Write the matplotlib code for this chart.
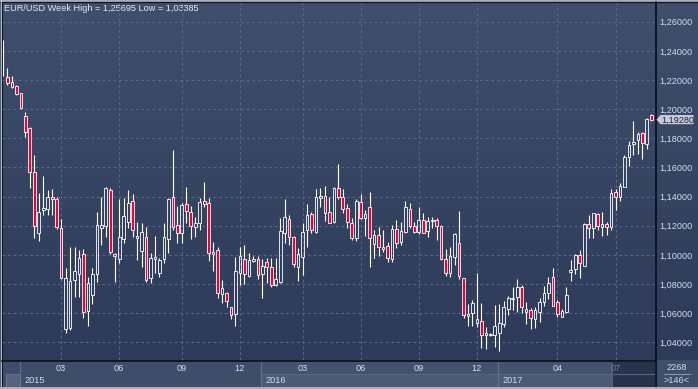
import numpy as np
import matplotlib
matplotlib.use("Agg")
import matplotlib.pyplot as plt
from matplotlib.patches import Rectangle, Polygon
from matplotlib.collections import LineCollection
from matplotlib.colors import LinearSegmentedColormap

# ---------------- data (weekly EUR/USD candles) ----------------
opens = [1.2227, 1.2220, 1.2186, 1.2159, 1.2111, 1.1953, 1.1868, 1.1566, 1.1148, 1.1308,
         1.1312, 1.1399, 1.1383, 1.1182, 1.0491, 1.0496, 1.0827, 1.0866, 1.1006, 1.0614,
         1.0724, 1.0866, 1.1182, 1.1200, 1.1445, 1.1006, 1.0969, 1.1107, 1.1227, 1.1369,
         1.1115, 1.1026, 1.1124, 1.0839, 1.0969, 1.0873, 1.0969, 1.1107, 1.1395, 1.1205,
         1.1148, 1.1349, 1.1292, 1.1193, 1.1216, 1.1369, 1.1354, 1.1017, 1.1033, 1.0729,
         1.0740, 1.0640, 1.0592, 1.0873, 1.0971, 1.0857, 1.0960, 1.0969, 1.0866, 1.0953,
         1.0914, 1.0793, 1.0816, 1.1148, 1.1244, 1.1124, 1.0914, 1.0987, 1.1170, 1.1280,
         1.1155, 1.1392, 1.1406, 1.1292, 1.1227, 1.1457, 1.1399, 1.1319, 1.1216, 1.1113,
         1.1360, 1.1251, 1.1326, 1.1072, 1.1136, 1.1056, 1.1061, 1.0969, 1.1175, 1.1090,
         1.1155, 1.1314, 1.1198, 1.1155, 1.1239, 1.1164, 1.1230, 1.1239, 1.1198, 1.0971,
         1.0877, 1.0987, 1.1083, 1.0839, 1.0580, 1.0599, 1.0530, 1.0548, 1.0448, 1.0448,
         1.0450, 1.0461, 1.0525, 1.0626, 1.0697, 1.0713, 1.0781, 1.0628, 1.0621, 1.0557,
         1.0610, 1.0678, 1.0740, 1.0846, 1.0678, 1.0575, 1.0610, 1.0884, 1.0901, 1.0999,
         1.0923, 1.1212, 1.1182, 1.1280, 1.1193, 1.1212, 1.1189, 1.1433, 1.1399, 1.1468,
         1.1673, 1.1761, 1.1788, 1.1834, 1.1759, 1.1960]
highs = [1.2474, 1.2282, 1.2227, 1.2166, 1.2113, 1.1982, 1.1879, 1.1685, 1.1426, 1.1541,
         1.1445, 1.1450, 1.1395, 1.1246, 1.0907, 1.1052, 1.1056, 1.1033, 1.1038, 1.0850,
         1.0910, 1.1292, 1.1399, 1.1463, 1.1457, 1.1013, 1.1381, 1.1388, 1.1445, 1.1415,
         1.1227, 1.1216, 1.1193, 1.1010, 1.1131, 1.0976, 1.1220, 1.1392, 1.1719, 1.1335,
         1.1358, 1.1463, 1.1335, 1.1260, 1.1388, 1.1502, 1.1388, 1.1090, 1.1056, 1.0827,
         1.0745, 1.0645, 1.0987, 1.1056, 1.1067, 1.1015, 1.0992, 1.0992, 1.0969, 1.0980,
         1.0976, 1.0976, 1.1251, 1.1383, 1.1273, 1.1129, 1.1045, 1.1220, 1.1349, 1.1296,
         1.1450, 1.1457, 1.1472, 1.1399, 1.1463, 1.1623, 1.1450, 1.1349, 1.1251, 1.1381,
         1.1417, 1.1308, 1.1433, 1.1170, 1.1193, 1.1170, 1.1090, 1.1205, 1.1239, 1.1227,
         1.1369, 1.1358, 1.1227, 1.1326, 1.1285, 1.1262, 1.1262, 1.1251, 1.1205, 1.1038,
         1.1056, 1.1148, 1.1301, 1.0841, 1.0662, 1.0690, 1.0873, 1.0671, 1.0507, 1.0461,
         1.0656, 1.0662, 1.0685, 1.0717, 1.0777, 1.0832, 1.0793, 1.0678, 1.0633, 1.0640,
         1.0706, 1.0786, 1.0850, 1.0912, 1.0690, 1.0626, 1.0781, 1.0964, 1.1006, 1.1033,
         1.1220, 1.1273, 1.1290, 1.1285, 1.1296, 1.1223, 1.1450, 1.1450, 1.1491, 1.1685,
         1.1781, 1.1921, 1.1845, 1.1845, 1.1937, 1.1966]
lows = [1.2227, 1.2166, 1.2145, 1.2097, 1.2001, 1.1807, 1.1457, 1.1115, 1.1097, 1.1273,
        1.1273, 1.1273, 1.1175, 1.0835, 1.0461, 1.0484, 1.0713, 1.0713, 1.0564, 1.0514,
        1.0662, 1.0816, 1.1067, 1.1124, 1.1006, 1.0816, 1.0942, 1.1079, 1.1182, 1.1124,
        1.0964, 1.0918, 1.0816, 1.0805, 1.0873, 1.0850, 1.0942, 1.1015, 1.1170, 1.1083,
        1.1083, 1.1216, 1.1107, 1.1124, 1.1170, 1.1330, 1.0960, 1.0891, 1.0702, 1.0671,
        1.0644, 1.0557, 1.0511, 1.0793, 1.0800, 1.0850, 1.0953, 1.0832, 1.0706, 1.0805,
        1.0777, 1.0788, 1.0805, 1.1079, 1.1067, 1.0914, 1.0822, 1.0862, 1.1056, 1.1148,
        1.1152, 1.1326, 1.1234, 1.1216, 1.1220, 1.1381, 1.1285, 1.1182, 1.1102, 1.1097,
        1.1247, 1.1131, 1.0914, 1.0976, 1.0992, 1.1021, 1.0953, 1.0953, 1.1045, 1.1067,
        1.1152, 1.1182, 1.1152, 1.1141, 1.1148, 1.1124, 1.1186, 1.1102, 1.0964, 1.0855,
        1.0850, 1.0930, 1.0832, 1.0564, 1.0511, 1.0511, 1.0507, 1.0358, 1.0352, 1.0443,
        1.0369, 1.0339, 1.0507, 1.0587, 1.0621, 1.0610, 1.0599, 1.0525, 1.0489, 1.0496,
        1.0541, 1.0649, 1.0695, 1.0649, 1.0575, 1.0571, 1.0603, 1.0822, 1.0868, 1.0839,
        1.0923, 1.1113, 1.1113, 1.1170, 1.1129, 1.1136, 1.1170, 1.1308, 1.1372, 1.1463,
        1.1610, 1.1685, 1.1692, 1.1658, 1.1724, 1.1921]
closes = [1.2227, 1.2179, 1.2152, 1.2104, 1.2008, 1.1841, 1.1566, 1.1200, 1.1292, 1.1323,
          1.1395, 1.1381, 1.1193, 1.0843, 1.0839, 1.0820, 1.0889, 1.0976, 1.0606, 1.0809,
          1.0868, 1.1205, 1.1205, 1.1457, 1.1021, 1.0992, 1.1124, 1.1266, 1.1354, 1.1170,
          1.1129, 1.1155, 1.0827, 1.0980, 1.0987, 1.0964, 1.1124, 1.1385, 1.1189, 1.1152,
          1.1342, 1.1301, 1.1198, 1.1216, 1.1360, 1.1347, 1.1010, 1.1004, 1.0740, 1.0774,
          1.0685, 1.0587, 1.0889, 1.0992, 1.0866, 1.0964, 1.0969, 1.0862, 1.0923, 1.0914,
          1.0793, 1.0832, 1.1164, 1.1258, 1.1124, 1.0935, 1.1006, 1.1159, 1.1273, 1.1170,
          1.1395, 1.1404, 1.1285, 1.1220, 1.1457, 1.1399, 1.1312, 1.1223, 1.1113, 1.1369,
          1.1251, 1.1280, 1.1113, 1.1136, 1.1056, 1.1040, 1.0976, 1.1175, 1.1083, 1.1164,
          1.1326, 1.1198, 1.1155, 1.1239, 1.1152, 1.1232, 1.1239, 1.1200, 1.0971, 1.0877,
          1.0992, 1.1141, 1.0855, 1.0587, 1.0594, 1.0667, 1.0557, 1.0450, 1.0461, 1.0457,
          1.0514, 1.0530, 1.0640, 1.0702, 1.0706, 1.0781, 1.0640, 1.0610, 1.0564, 1.0621,
          1.0678, 1.0740, 1.0805, 1.0651, 1.0592, 1.0614, 1.0724, 1.0896, 1.0999, 1.0942,
          1.1212, 1.1182, 1.1285, 1.1198, 1.1212, 1.1193, 1.1426, 1.1399, 1.1472, 1.1673,
          1.1754, 1.1774, 1.1827, 1.1765, 1.1930, 1.1928]

month_tick_idx = [13, 26, 40, 53, 67, 80, 93, 106, 124, 137]
month_tick_labels = ["03", "06", "09", "12", "03", "06", "09", "12", "04", "07"]
year_start_idx = [4, 58, 111]
year_labels = ["2015", "2016", "2017"]
price_ticks = [1.04, 1.06, 1.08, 1.10, 1.12, 1.14, 1.16, 1.18, 1.20, 1.22, 1.24, 1.26]
title_text = "EUR/USD Week High = 1,25695 Low = 1,03385"
last_price = 1.19280
bars_total = "2268"
bars_visible = ">146<"

# ---------------- style ----------------
FONT = "Liberation Sans"
TXT = "#cfdbee"
RED = "#ee0038"
W, H = 698, 389
PLOT_L, PLOT_R, PLOT_T, PLOT_B = 2, 655, 3, 360

fig = plt.figure(figsize=(W / 100, H / 100), dpi=100)
fig.patch.set_facecolor("#3b4a66")

bg = fig.add_axes([0, 0, 1, 1])
bg.set_xlim(0, W)
bg.set_ylim(H, 0)
bg.axis("off")

grad = np.linspace(0, 1, 256)[:, None]
cmap = LinearSegmentedColormap.from_list("g", ["#3f4f6c", "#2d3a59"])
bg.imshow(grad, extent=(0, W, PLOT_B, 0), cmap=cmap, aspect="auto",
          interpolation="bilinear", zorder=0)

# bottom time band
bg.add_patch(Rectangle((0, PLOT_B), W, H - PLOT_B, color="#3e4d69", zorder=1, lw=0))

ax = fig.add_axes([PLOT_L / W, (H - PLOT_B) / H, (PLOT_R - PLOT_L) / W,
                   (PLOT_B - PLOT_T) / H])
ax.patch.set_alpha(0)
ax.set_xlim(-0.2237, 145.83)
ax.set_ylim(1.02781, 1.27283)
for s in ax.spines.values():
    s.set_visible(False)

# grid
ax.set_yticks(price_ticks)
ax.set_xticks(month_tick_idx)
ax.set_xticklabels(month_tick_labels)
ax.grid(True, color="#56668a", linestyle=(0, (2.5, 2.5)), linewidth=0.8, zorder=0)
ax.set_axisbelow(True)
ax.yaxis.tick_right()
ax.yaxis.set_major_formatter(plt.FuncFormatter(lambda v, p: f"{v:.5f}".replace(".", ",")))
ax.tick_params(axis="y", length=0, pad=3, labelsize=6.6, labelcolor=TXT)
ax.tick_params(axis="x", length=0, pad=3.0, labelsize=6.6, labelcolor=TXT)
for lab in ax.get_xticklabels() + ax.get_yticklabels():
    lab.set_fontfamily(FONT)
ax.get_xticklabels()[-1].set_color("#6f7f9f")

# candles
x = np.arange(len(opens))
o = np.array(opens); h = np.array(highs); l = np.array(lows); c = np.array(closes)
top = np.maximum(o, c); bot = np.minimum(o, c)
segs = []
for i in range(len(x)):
    segs.append([(x[i], top[i]), (x[i], h[i])])
    segs.append([(x[i], l[i]), (x[i], bot[i])])
ax.add_collection(LineCollection(segs, colors="white", linewidths=0.8, zorder=3))
bw = 0.6
minh = 0.0004
for i in range(len(x)):
    if top[i] - bot[i] < 1e-9:
        continue
    hh = max(top[i] - bot[i], minh)
    yb = bot[i] if top[i] - bot[i] >= minh else (o[i] + c[i]) / 2 - minh / 2
    fc = RED if c[i] < o[i] else "none"
    ax.add_patch(Rectangle((x[i] - bw / 2, yb), bw, hh, facecolor=fc,
                           edgecolor="white", linewidth=0.6, zorder=4))

# frame lines
bg.plot([0, W], [0.5, 0.5], color="#b9c1cf", lw=1.2, zorder=6)
bg.plot([0, W], [2.3, 2.3], color="#10151f", lw=0.9, zorder=6)
bg.plot([0.5, 0.5], [0, H], color="#b9c1cf", lw=1.0, zorder=6)
bg.plot([1.8, 1.8], [2, 387], color="#10151f", lw=0.8, zorder=6)
bg.plot([PLOT_R + 0.5, PLOT_R + 0.5], [2, 387], color="#05070c", lw=1.1, zorder=6)
bg.plot([2, PLOT_R], [PLOT_B + 0.5, PLOT_B + 0.5], color="#05070c", lw=1.1, zorder=6)
bg.add_patch(Rectangle((0, 387), W, 2, color="#a9b1c0", zorder=6, lw=0))


def px(idx):
    return ax.transData.transform((idx, ax.get_ylim()[0]))[0]


# time band segments
seps = [px(i - 0.2) for i in year_start_idx]
bounds = seps + [PLOT_R]
for k in range(len(year_labels)):
    x0, x1 = bounds[k], bounds[k + 1]
    if k > 0:
        bg.add_patch(Rectangle((x0, PLOT_B + 1), x1 - x0, 12.5, color="#43526f", lw=0, zorder=2))
        bg.add_patch(Rectangle((x0, 374), x1 - x0, 13, color="#4b5a77", lw=0, zorder=2))
        bg.plot([x0, x1], [373.8, 373.8], color="#56667f", lw=0.8, zorder=3)
    bg.plot([x0, x0], [PLOT_B + 1, 387], color="#5f6e8a", lw=0.9, zorder=3)
    bg.text(x0 + 4, 380.5, year_labels[k], color=TXT, fontsize=6.6, family=FONT,
            ha="left", va="center", zorder=5)
bg.add_patch(Rectangle((6, 374), 14, 13, facecolor="#55637e", edgecolor="#6a7894",
                       lw=0.6, zorder=3))
# dark scroll box at the right of the time band
bg.add_patch(Rectangle((611.5, PLOT_B + 1), PLOT_R - 611.5, 25.5, facecolor="#27324d",
                       edgecolor="#56647f", lw=0.6, zorder=2.5))

# right bottom box
bg.add_patch(Rectangle((PLOT_R + 1, PLOT_B + 1), W - PLOT_R - 1, 26, color="#3e4d69", lw=0, zorder=2))
bg.text(677, 367, bars_total, color=TXT, fontsize=6.6, family=FONT, ha="center", va="center", zorder=5)
bg.plot([664, 690], [374, 374], color="#8494b2", lw=0.8, zorder=5)
bg.text(677, 380.5, bars_visible, color=TXT, fontsize=6.6, family=FONT, ha="center", va="center", zorder=5)

# title
bg.text(4, 8, title_text, color="#e3e9f3", fontsize=6.6, family=FONT, ha="left",
        va="center", zorder=7)

# current price marker
py = H - ax.transData.transform((0, last_price))[1]
bg.add_patch(Polygon([(656.5, py), (660.5, py - 4.6), (693.5, py - 4.6), (693.5, py + 4.6),
                      (660.5, py + 4.6)], closed=True, facecolor="#c6cbd6",
                     edgecolor="none", zorder=7))
bg.text(661, py + 0.3, f"{last_price:.5f}".replace(".", ","), color="#1b2538",
        fontsize=6.6, family=FONT, ha="left", va="center", zorder=8)

fig.savefig("out.png", dpi=100)
